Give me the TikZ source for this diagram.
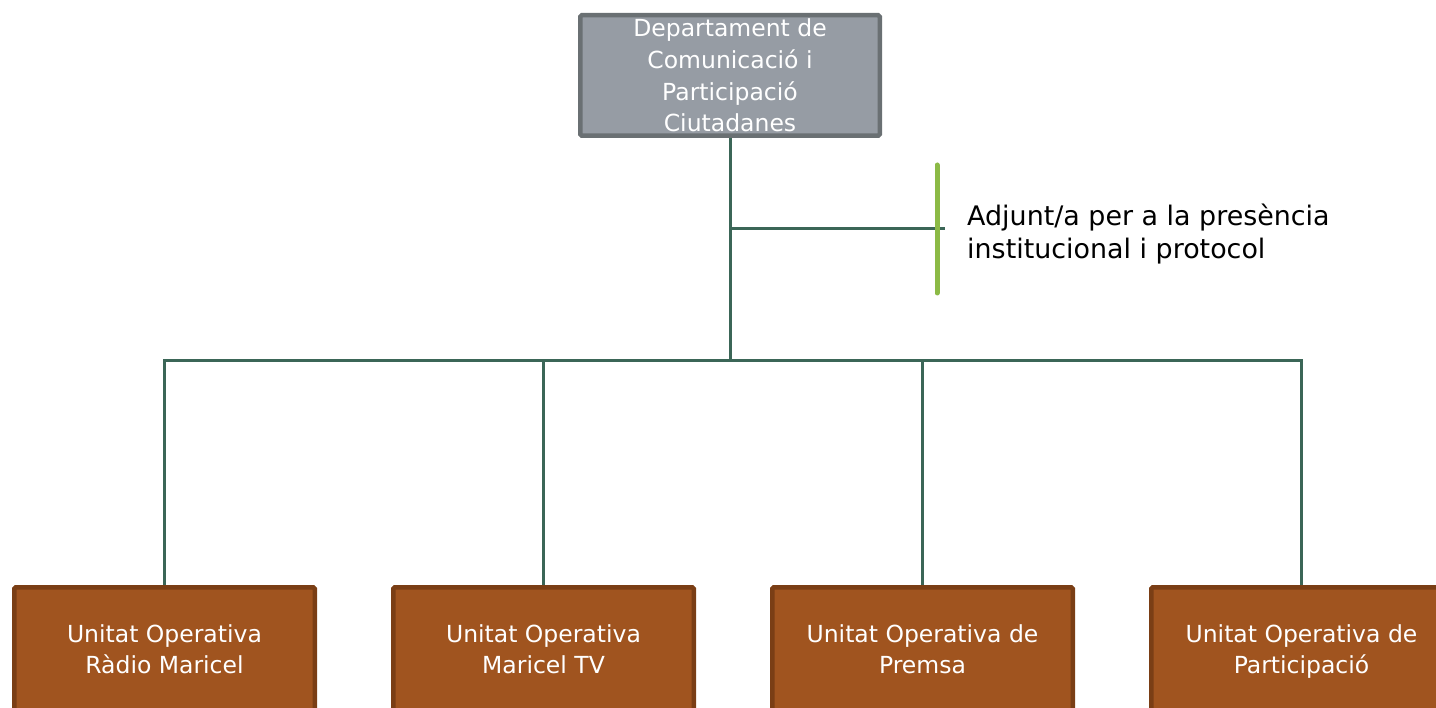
\documentclass[tikz,border=0pt]{standalone}
\usepackage{fontspec}
\setmainfont{DejaVu Sans}
\definecolor{topfill}{HTML}{969CA4}
\definecolor{topedge}{HTML}{6A7073}
\definecolor{unitfill}{HTML}{A0541F}
\definecolor{unitedge}{HTML}{7A3E15}
\definecolor{linkc}{HTML}{3B6657}
\definecolor{adjgreen}{HTML}{8CBA46}
\tikzset{
  headbox/.style={draw=topedge, fill=topfill, line width=4.5pt, rounded corners=1.5pt, minimum width=299.5pt, minimum height=120.5pt, inner sep=0pt, text=white, align=center, font=\fontsize{23.5}{31.7}\selectfont},
  unitbox/.style={draw=unitedge, fill=unitfill, line width=4.5pt, rounded corners=1.5pt, minimum width=300.5pt, minimum height=123.5pt, inner sep=0pt, text=white, align=center, font=\fontsize{23.5}{31.5}\selectfont},
  linkline/.style={draw=linkc, line width=3pt},
  adjbar/.style={draw=adjgreen, line width=5pt, line cap=round},
  adjtext/.style={anchor=west, inner sep=0pt, align=left, font=\fontsize{26.9}{33.5}\selectfont, text=black}
}
\begin{document}
\begin{tikzpicture}[x=1pt,y=-1pt]
\useasboundingbox (0,0) rectangle (1436,708);
\node[headbox] (head) at (730,75.5) {Departament de\\Comunicació i\\Participació\\Ciutadanes};
\node[unitbox] (u1) at (164.5,649) {Unitat Operativa\\Ràdio Maricel};
\node[unitbox] (u2) at (543.5,649) {Unitat Operativa\\Maricel TV};
\node[unitbox] (u3) at (922.5,649) {Unitat Operativa de\\Premsa};
\node[unitbox] (u4) at (1301.5,649) {Unitat Operativa de\\\raisebox{0pt}[\height][0pt]{Participació}};
\coordinate (hub) at (730,361);
\coordinate (branch) at (730,229);
\coordinate (branchend) at (945,229);
\coordinate (g1) at (937,165);
\coordinate (g2) at (937,293);
\node[adjtext] (adj) at (967,234) {Adjunt/a per a la presència\\institucional i protocol};
\draw[linkline] (head.south) -- (hub);
\draw[linkline] (branch) -- (branchend);
\draw[linkline] (u1.north) |- (hub);
\draw[linkline] (u2.north) |- (hub);
\draw[linkline] (u3.north) |- (hub);
\draw[linkline] (u4.north) |- (hub);
\draw[adjbar] (g1) -- (g2);
\end{tikzpicture}
\end{document}
